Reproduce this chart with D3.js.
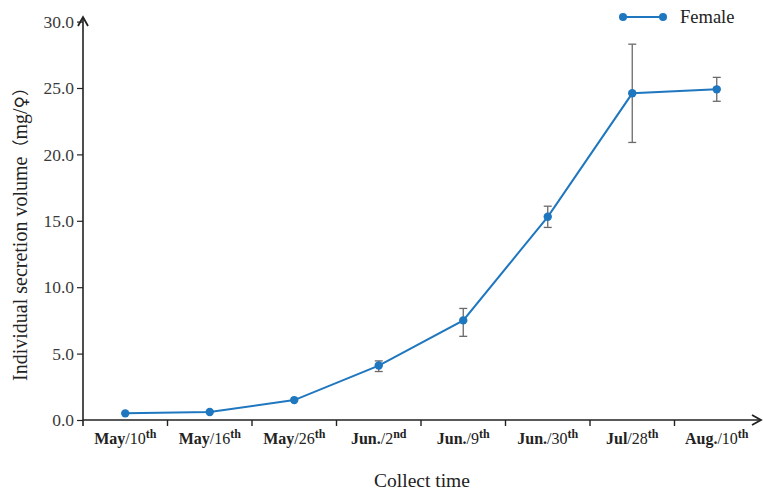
<!DOCTYPE html>
<html>
<head>
<meta charset="utf-8">
<script src="https://cdn.jsdelivr.net/npm/d3@7"></script>
<style>
  html, body { margin: 0; padding: 0; background: #fff; }
  svg { display: block; font-family: "Liberation Serif", "Times New Roman", serif; }
  .ytick-label { font-family: "Liberation Serif", "Times New Roman", serif !important; font-size: 17.5px; }
</style>
</head>
<body>
<svg id="chart" width="763" height="495"></svg>
<script>
// Collection dates: month, day, ordinal suffix
const months = ["May", "May", "May", "Jun.", "Jun.", "Jun.", "Jul", "Aug."];
const days = ["10", "16", "26", "2", "9", "30", "28", "10"];
const suffixes = ["th", "th", "th", "nd", "th", "th", "th", "th"];
// Mean secretion volume per female (mg) and error bar extents
const femaleValues = [0.5, 0.6, 1.5, 4.1, 7.5, 15.3, 24.6, 24.9];
const errUp = [0, 0, 0, 0.35, 0.9, 0.8, 3.7, 0.9];
const errDown = [0, 0, 0, 0.45, 1.2, 0.8, 3.7, 0.9];
const yTicks = [0, 5, 10, 15, 20, 25, 30];

const svg = d3.select("#chart");
const plotLeft = 83, plotRight = 759, plotTop = 21.6, plotBottom = 420;

const x = d3.scaleBand().domain(d3.range(months.length)).range([plotLeft, plotRight]);
const y = d3.scaleLinear().domain([0, 30]).range([plotBottom, plotTop]);

const axisColor = "#222";
const lineColor = "#1f77bf";

// Y axis with arrow head
const yAxis = d3.axisLeft(y).tickValues(yTicks).tickFormat(d3.format(".1f")).tickSize(6).tickPadding(3);
const gy = svg.append("g").attr("transform", `translate(${plotLeft},0)`).call(yAxis);
gy.attr("font-family", "Liberation Serif").attr("font-size", 17.5);
gy.select(".domain").remove();
gy.selectAll(".tick line").attr("stroke", axisColor).attr("stroke-width", 1.2);
gy.selectAll(".tick text").attr("class", "ytick-label").attr("fill", "#3a3a3a");
svg.append("line").attr("x1", plotLeft).attr("x2", plotLeft).attr("y1", plotBottom + 6).attr("y2", 17)
  .attr("stroke", axisColor).attr("stroke-width", 1.6);
svg.append("path").attr("d", `M${plotLeft - 5},26 L${plotLeft},17 L${plotLeft + 5},26`)
  .attr("fill", "none").attr("stroke", axisColor).attr("stroke-width", 1.8);

// X axis with arrow head
svg.append("line").attr("x1", plotLeft).attr("x2", 761).attr("y1", plotBottom).attr("y2", plotBottom)
  .attr("stroke", axisColor).attr("stroke-width", 1.6);
svg.append("path").attr("d", `M752,${plotBottom - 5} L761,${plotBottom} L752,${plotBottom + 5}`)
  .attr("fill", "none").attr("stroke", axisColor).attr("stroke-width", 1.8);
const bounds = d3.range(1, months.length).map(i => x(i));
svg.selectAll(".xtick").data(bounds).join("line").attr("class", "xtick")
  .attr("x1", d => d).attr("x2", d => d).attr("y1", plotBottom).attr("y2", plotBottom + 6)
  .attr("stroke", axisColor).attr("stroke-width", 1.4);

// Category labels: bold month, regular day, bold superscript suffix
const labels = svg.selectAll(".xlab").data(months).join("text").attr("class", "xlab")
  .attr("x", (d, i) => x(i) + x.bandwidth() / 2).attr("y", 444)
  .attr("text-anchor", "middle").attr("font-size", 16).attr("fill", "#222");
labels.append("tspan").attr("font-weight", "bold").text(d => d);
labels.append("tspan").text((d, i) => "/" + days[i]);
labels.append("tspan").attr("font-weight", "bold").attr("font-size", 12).attr("dy", -6)
  .text((d, i) => suffixes[i]);

// Axis titles
svg.append("text").attr("x", 422).attr("y", 487).attr("text-anchor", "middle")
  .attr("font-size", 19.5).attr("fill", "#222").text("Collect time");
const yTitle = svg.append("text").attr("transform", "translate(27,230) rotate(-90)")
  .attr("text-anchor", "middle").attr("font-size", 20).attr("fill", "#222");
yTitle.append("tspan").text("Individual secretion volume");
yTitle.append("tspan").style("font-family", "'Noto Sans CJK SC', sans-serif").attr("font-size", 17).text("（");
yTitle.append("tspan").text("mg/");
yTitle.append("tspan").style("font-family", "'DejaVu Sans', sans-serif").attr("font-size", 17).text("♀");
yTitle.append("tspan").style("font-family", "'Noto Sans CJK SC', sans-serif").attr("font-size", 17).text("）");

// Error bars
const cx = i => x(i) + x.bandwidth() / 2;
const eb = svg.append("g").attr("stroke", "#6a6a6a").attr("stroke-width", 1.3);
femaleValues.forEach((v, i) => {
  if (errUp[i] === 0 && errDown[i] === 0) return;
  const y1 = y(v + errUp[i]), y2 = y(v - errDown[i]);
  eb.append("line").attr("x1", cx(i)).attr("x2", cx(i)).attr("y1", y1).attr("y2", y2);
  eb.append("line").attr("x1", cx(i) - 4).attr("x2", cx(i) + 4).attr("y1", y1).attr("y2", y1);
  eb.append("line").attr("x1", cx(i) - 4).attr("x2", cx(i) + 4).attr("y1", y2).attr("y2", y2);
});

// Series line and markers
const line = d3.line().x((d, i) => cx(i)).y(d => y(d));
svg.append("path").datum(femaleValues).attr("d", line)
  .attr("fill", "none").attr("stroke", lineColor).attr("stroke-width", 2);
svg.selectAll(".pt").data(femaleValues).join("circle").attr("class", "pt")
  .attr("cx", (d, i) => cx(i)).attr("cy", d => y(d)).attr("r", 4.2).attr("fill", lineColor);

// Legend
const lg = svg.append("g");
lg.append("line").attr("x1", 623).attr("x2", 663).attr("y1", 17).attr("y2", 17)
  .attr("stroke", lineColor).attr("stroke-width", 2);
lg.selectAll("circle").data([623, 663]).join("circle").attr("cx", d => d).attr("cy", 17)
  .attr("r", 4).attr("fill", lineColor);
lg.append("text").attr("x", 680).attr("y", 23).attr("font-size", 18.5).attr("fill", "#222").text("Female");
</script>
</body>
</html>
